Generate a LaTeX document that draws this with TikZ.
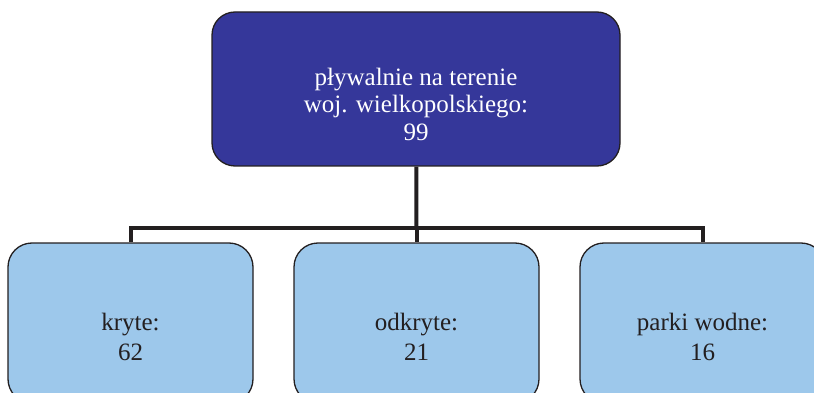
\documentclass[tikz,border=0pt]{standalone}
\usepackage{fontspec}
\setmainfont{Liberation Serif}
\usetikzlibrary{positioning}
\definecolor{wojblue}{HTML}{35379A}
\definecolor{basenblue}{HTML}{9DC8EB}
\definecolor{inkline}{HTML}{231F20}
\tikzset{
  rootbox/.style={rectangle,rounded corners=23pt,minimum width=408pt,minimum height=154pt,
    draw=inkline,fill=wojblue,line width=1.3pt},
  kindbox/.style={rectangle,rounded corners=24pt,minimum width=245pt,minimum height=160pt,
    draw=inkline,fill=basenblue,line width=1.3pt},
  roottext/.style={text=white,align=center,inner sep=0pt,font=\fontsize{25}{27.5}\selectfont},
  kindtext/.style={text=inkline,align=center,inner sep=0pt,font=\fontsize{25}{30}\selectfont},
  branch/.style={draw=inkline,line width=4pt},
}
\begin{document}
\begin{tikzpicture}[x=1pt,y=-1pt]
  \clip (0,0) rectangle (814,393);
  \node[rootbox] (root) at (416,89) {};
  \node[kindbox] (kryte)   at (130.5,323) {};
  \node[kindbox] (odkryte) at (416.5,323) {};
  \node[kindbox] (parki)   at (702.5,323) {};
  \coordinate (fork) at (416.5,228);
  \draw[branch] (root) -- (fork);
  \draw[branch] (kryte) |- (fork) -| (parki);
  \draw[branch] (fork) -- (odkryte);
  \node[roottext] (roott) at (416,104) {pływalnie na terenie\\woj. wielkopolskiego:\\99};
  \node[kindtext] (krytet)   at (130.5,336.5) {kryte:\\62};
  \node[kindtext] (odkrytet) at (416.5,336.5) {odkryte:\\21};
  \node[kindtext] (parkit)   at (702.5,336.5) {parki wodne:\\16};
\end{tikzpicture}
\end{document}
